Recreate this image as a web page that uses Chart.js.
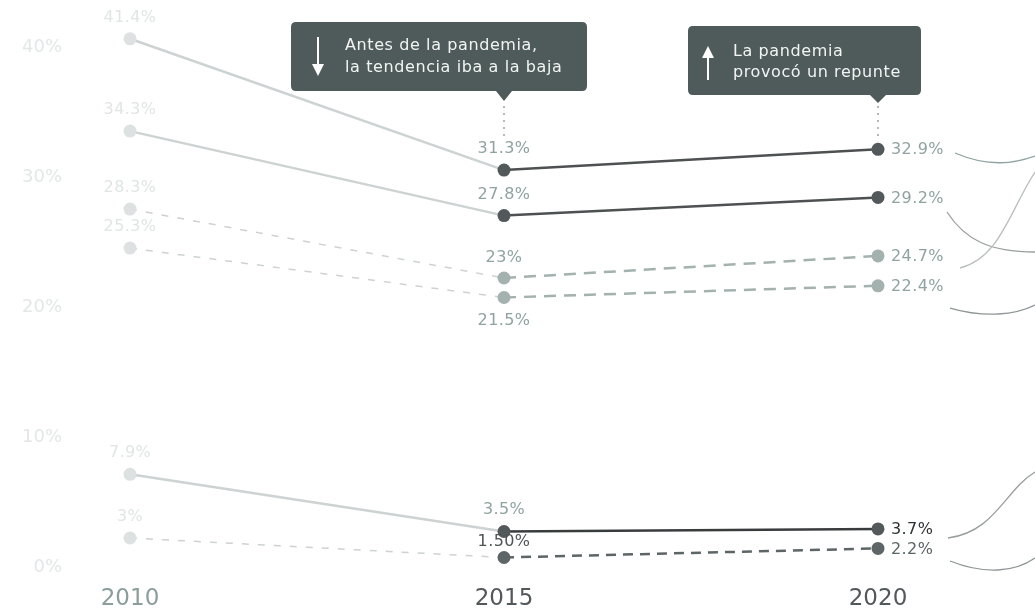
<!DOCTYPE html>
<html>
<head>
<meta charset="utf-8">
<script src="https://cdn.jsdelivr.net/npm/chart.js@4.4.1/dist/chart.umd.min.js"></script>
<style>
  html, body { margin: 0; padding: 0; background: #fff; }
  #wrap { width: 1035px; height: 612px; position: relative; }
</style>
</head>
<body>
<div id="wrap"><canvas id="grafica"></canvas></div>
<script>
// datos
const anios = ['2010', '2015', '2020'];
const serieA = [41.4, 31.3, 32.9];
const serieB = [34.3, 27.8, 29.2];
const serieC = [28.3, 23, 24.7];
const serieD = [25.3, 21.5, 22.4];
const serieE = [7.9, 3.5, 3.7];
const serieF = [3, 1.5, 2.2];
const etiquetasA = ['41.4%', '31.3%', '32.9%'];
const etiquetasB = ['34.3%', '27.8%', '29.2%'];
const etiquetasC = ['28.3%', '23%', '24.7%'];
const etiquetasD = ['25.3%', '21.5%', '22.4%'];
const etiquetasE = ['7.9%', '3.5%', '3.7%'];
const etiquetasF = ['3%', '1.50%', '2.2%'];
const marcasY = [0, 10, 20, 30, 40];
const notaBaja = ['Antes de la pandemia,', 'la tendencia iba a la baja'];
const notaRepunte = ['La pandemia', 'provocó un repunte'];

const FUENTE = '"DejaVu Sans", sans-serif';
const tenue = '#e1e5e5';
const oscuro = '#53585a';
const verdoso = '#a3b1af';

// estilo por serie (desplazamiento vertical de la etiqueta de 2015 en dy15)
const estilos = [
  { datos: serieA, txt: etiquetasA, linea: '#4d5152', punto: oscuro, guion: [], dy15: -21, col15: '#8fa3a0', col20: '#8fa3a0' },
  { datos: serieB, txt: etiquetasB, linea: '#4d5152', punto: oscuro, guion: [], dy15: -21, col15: '#8fa3a0', col20: '#8fa3a0' },
  { datos: serieC, txt: etiquetasC, linea: verdoso, punto: verdoso, guion: [12, 8], dy15: -20, col15: '#8fa3a0', col20: '#8fa3a0' },
  { datos: serieD, txt: etiquetasD, linea: verdoso, punto: verdoso, guion: [12, 8], dy15: 23, col15: '#8fa3a0', col20: '#8fa3a0' },
  { datos: serieE, txt: etiquetasE, linea: '#393c3d', punto: oscuro, guion: [], dy15: -22, col15: '#8fa3a0', col20: '#2e3233' },
  { datos: serieF, txt: etiquetasF, linea: '#5d6566', punto: '#5d6566', guion: [10, 7], dy15: -16, col15: '#4e5556', col20: '#5b6566' }
];

const datasets = estilos.map(function (e) {
  return {
    data: e.datos,
    borderWidth: 2.5,
    borderColor: e.linea,
    borderDash: e.guion,
    pointRadius: 6.5,
    pointHoverRadius: 6.5,
    pointBorderWidth: 0,
    pointBackgroundColor: ['#dde1e1', e.punto, e.punto],
    clip: false,
    segment: {
      borderColor: function (ctx) { return ctx.p0DataIndex === 0 ? '#cdd2d2' : e.linea; },
      borderWidth: function (ctx) { return ctx.p0DataIndex === 0 ? (e.guion.length ? 1.5 : 2.5) : 2.5; },
      borderDash: function (ctx) { return ctx.p0DataIndex === 0 && e.guion.length ? [7, 9] : e.guion; }
    }
  };
});

// etiquetas de valores
const pluginEtiquetas = {
  id: 'etiquetas',
  afterDatasetsDraw(chart) {
    const c = chart.ctx;
    c.save();
    c.font = '16px ' + FUENTE;
    c.letterSpacing = '0.4px';
    c.textBaseline = 'middle';
    estilos.forEach(function (e, i) {
      const pts = chart.getDatasetMeta(i).data;
      // 2010
      c.fillStyle = tenue;
      c.textAlign = 'center';
      c.fillText(e.txt[0], pts[0].x, pts[0].y - 21);
      // 2015
      c.fillStyle = e.col15;
      c.fillText(e.txt[1], pts[1].x, pts[1].y + e.dy15);
      // 2020
      c.fillStyle = e.col20;
      c.textAlign = 'left';
      c.fillText(e.txt[2], pts[2].x + 13, pts[2].y + 1);
    });
    c.restore();
  }
};

function caja(c, x0, y0, x1, y1, r, puntaX, puntaY) {
  c.beginPath();
  c.moveTo(x0 + r, y0);
  c.lineTo(x1 - r, y0);
  c.quadraticCurveTo(x1, y0, x1, y0 + r);
  c.lineTo(x1, y1 - r);
  c.quadraticCurveTo(x1, y1, x1 - r, y1);
  c.lineTo(puntaX + 8, y1);
  c.lineTo(puntaX, puntaY);
  c.lineTo(puntaX - 8, y1);
  c.lineTo(x0 + r, y1);
  c.quadraticCurveTo(x0, y1, x0, y1 - r);
  c.lineTo(x0, y0 + r);
  c.quadraticCurveTo(x0, y0, x0 + r, y0);
  c.closePath();
  c.fill();
}

function flecha(c, x, yIni, yFin) {
  const dir = yFin > yIni ? 1 : -1;
  c.strokeStyle = '#fff';
  c.fillStyle = '#fff';
  c.lineWidth = 2;
  c.beginPath();
  c.moveTo(x, yIni);
  c.lineTo(x, yFin - dir * 8);
  c.stroke();
  c.beginPath();
  c.moveTo(x - 6, yFin - dir * 12);
  c.lineTo(x + 6, yFin - dir * 12);
  c.lineTo(x, yFin);
  c.closePath();
  c.fill();
}

// notas y curvas decorativas
const pluginNotas = {
  id: 'notas',
  afterDraw(chart) {
    const c = chart.ctx;
    const xs = chart.scales.x;
    const x15 = xs.getPixelForValue(1);
    const x20 = xs.getPixelForValue(2);
    const pA = chart.getDatasetMeta(0).data;
    c.save();
    // lineas punteadas verticales
    c.strokeStyle = '#9aa5a4';
    c.lineWidth = 1.5;
    c.setLineDash([2, 5]);
    c.beginPath();
    c.moveTo(x15, 106); c.lineTo(x15, pA[1].y - 32);
    c.moveTo(x20, 106); c.lineTo(x20, pA[2].y - 8);
    c.stroke();
    c.setLineDash([]);

    c.fillStyle = '#4f5b5a';
    caja(c, 291, 22, 587, 91, 5, x15, 101);
    caja(c, 688, 26, 921, 95, 5, x20, 103);

    flecha(c, 318, 37, 76);
    flecha(c, 708, 80, 46);

    c.fillStyle = '#f2f4f4';
    c.font = '16px ' + FUENTE;
    c.letterSpacing = '0.6px';
    c.textAlign = 'left';
    c.textBaseline = 'middle';
    c.fillText(notaBaja[0], 345, 46);
    c.fillText(notaBaja[1], 345, 68);
    c.fillText(notaRepunte[0], 733, 52);
    c.fillText(notaRepunte[1], 733, 73);
    c.letterSpacing = '0px';

    // curvas a la derecha
    const curvas = [
      ['#8fa3a0', [955, 153, 990, 168, 1015, 163, 1035, 156]],
      ['#9a9e9f', [947, 212, 965, 240, 990, 252, 1035, 252]],
      ['#b9bebe', [960, 268, 1000, 258, 1010, 210, 1035, 172]],
      ['#8e9596', [950, 308, 985, 318, 1015, 315, 1035, 305]],
      ['#9a9e9f', [948, 538, 995, 532, 1005, 490, 1035, 472]],
      ['#8e9596', [950, 561, 985, 575, 1015, 572, 1035, 558]]
    ];
    c.lineWidth = 1.3;
    curvas.forEach(function (k) {
      const p = k[1];
      c.strokeStyle = k[0];
      c.beginPath();
      c.moveTo(p[0], p[1]);
      c.bezierCurveTo(p[2], p[3], p[4], p[5], p[6], p[7]);
      c.stroke();
    });
    c.restore();
  }
};

new Chart(document.getElementById('grafica'), {
  type: 'line',
  data: { labels: anios, datasets: datasets },
  options: {
    responsive: true,
    maintainAspectRatio: false,
    animation: false,
    layout: { padding: { top: 31, right: 157, left: 0, bottom: 0 } },
    plugins: {
      legend: { display: false },
      tooltip: { enabled: false }
    },
    scales: {
      x: {
        offset: false,
        grid: { display: false, drawTicks: false },
        border: { display: false },
        afterFit: function (s) { s.height = 35; s.paddingLeft = 0; s.paddingRight = 0; },
        ticks: {
          padding: 8,
          font: { family: FUENTE, size: 23 },
          color: function (ctx) { return ctx.index === 0 ? '#8a9e9b' : '#53585a'; }
        }
      },
      y: {
        min: 0,
        max: 42,
        grid: { display: false, drawTicks: false },
        border: { display: false },
        afterFit: function (s) { s.width = 130; s.paddingTop = 0; s.paddingBottom = 0; },
        afterBuildTicks: function (s) {
          s.ticks = marcasY.map(function (v) { return { value: v }; });
        },
        ticks: {
          padding: 68,
          labelOffset: -10,
          font: { family: FUENTE, size: 18 },
          color: '#e3e7e7',
          callback: function (v) { return v + '%'; }
        }
      }
    }
  },
  plugins: [pluginEtiquetas, pluginNotas]
});
</script>
</body>
</html>
